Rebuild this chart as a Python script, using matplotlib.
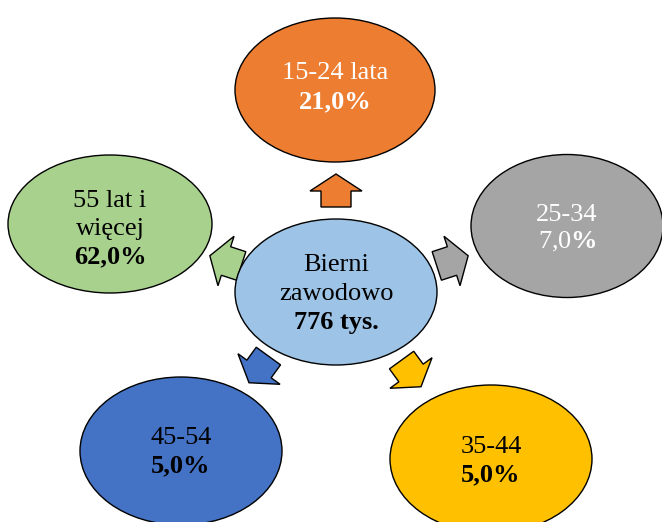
import numpy as np
import matplotlib
matplotlib.use("Agg")
import matplotlib.pyplot as plt
from matplotlib.patches import Ellipse, Polygon

plt.rcParams["mathtext.fontset"] = "custom"
plt.rcParams["mathtext.rm"] = "Liberation Serif"
plt.rcParams["mathtext.bf"] = "Liberation Serif:bold"

# ---- data ----
center_label = ["Bierni", "zawodowo"]
center_value = "776 tys."
categories = ["15-24 lata", "25-34", "35-44", "45-54", "55 lat i\nwięcej"]
shares = ["21,0%", "7,0%", "5,0%", "5,0%", "62,0%"]
fill_colors = ["#ED7D31", "#A5A5A5", "#FFC000", "#4472C4", "#A9D18E"]
text_colors = ["white", "white", "black", "black", "black"]
only_pct_bold = [False, True, False, False, False]

# ---- layout (pixel coordinates, y downward) ----
W, H = 662, 522
fig = plt.figure(figsize=(W / 100, H / 100), dpi=100)
ax = fig.add_axes([0, 0, 1, 1])
ax.set_xlim(0, W)
ax.set_ylim(H, 0)
ax.axis("off")

font = "Liberation Serif"
fs = 19

ell_pos = [(335, 90, 200, 144), (567, 226, 192, 143), (491, 459, 202, 148),
           (181, 451, 202, 148), (110, 224, 204, 138)]
text_y = [(73, 102), (215, 242), (447, 475), (438, 466), (201, 257)]
arrow_pos = [(336, 191), (452, 261), (411, 373), (259, 369), (226, 261)]
arrow_ang = [90, 18, -54, -126, 162]

# arrows
base = np.array([(-16, -15), (0, -15), (0, -26), (17, 0), (0, 26), (0, 15), (-16, 15)], float)
for (cx, cy), ang, col in zip(arrow_pos, arrow_ang, fill_colors):
    t = np.deg2rad(ang)
    pts = []
    for x, y in base:
        xr = x * np.cos(t) - y * np.sin(t)
        yr = x * np.sin(t) + y * np.cos(t)
        pts.append((cx + xr, cy - yr))
    ax.add_patch(Polygon(pts, closed=True, facecolor=col, edgecolor="black", lw=1.0, zorder=2))

# center ellipse
ax.add_patch(Ellipse((336, 292), 202, 146, facecolor="#9DC3E6", edgecolor="black", lw=1.0, zorder=3))
ax.text(336, 265, center_label[0], ha="center", va="center", fontsize=fs, family=font, zorder=4)
ax.text(336, 294, center_label[1], ha="center", va="center", fontsize=fs, family=font, zorder=4)
ax.text(336, 322, center_value, ha="center", va="center", fontsize=fs, family=font,
        fontweight="bold", zorder=4)

# outer ellipses
for (cx, cy, w, h), cat, sh, fc, tc, (y1, y2), pb in zip(ell_pos, categories, shares,
                                                          fill_colors, text_colors, text_y,
                                                          only_pct_bold):
    ax.add_patch(Ellipse((cx, cy), w, h, facecolor=fc, edgecolor="black", lw=1.0, zorder=3))
    lines = cat.split("\n")
    if len(lines) == 2:
        ax.text(cx, y1, lines[0], ha="center", va="center", fontsize=fs, family=font, color=tc, zorder=4)
        ax.text(cx, (y1 + y2) / 2, lines[1], ha="center", va="center", fontsize=fs, family=font, color=tc, zorder=4)
    else:
        ax.text(cx, y1, cat, ha="center", va="center", fontsize=fs, family=font, color=tc, zorder=4)
    if pb:
        label = sh[:-1] + r"$\mathbf{\%}$"
        ax.text(cx, y2, label, ha="center", va="center", fontsize=fs, family=font, color=tc, zorder=4)
    else:
        ax.text(cx, y2, sh, ha="center", va="center", fontsize=fs, family=font, color=tc,
                fontweight="bold", zorder=4)

fig.savefig("out.png", dpi=100)
